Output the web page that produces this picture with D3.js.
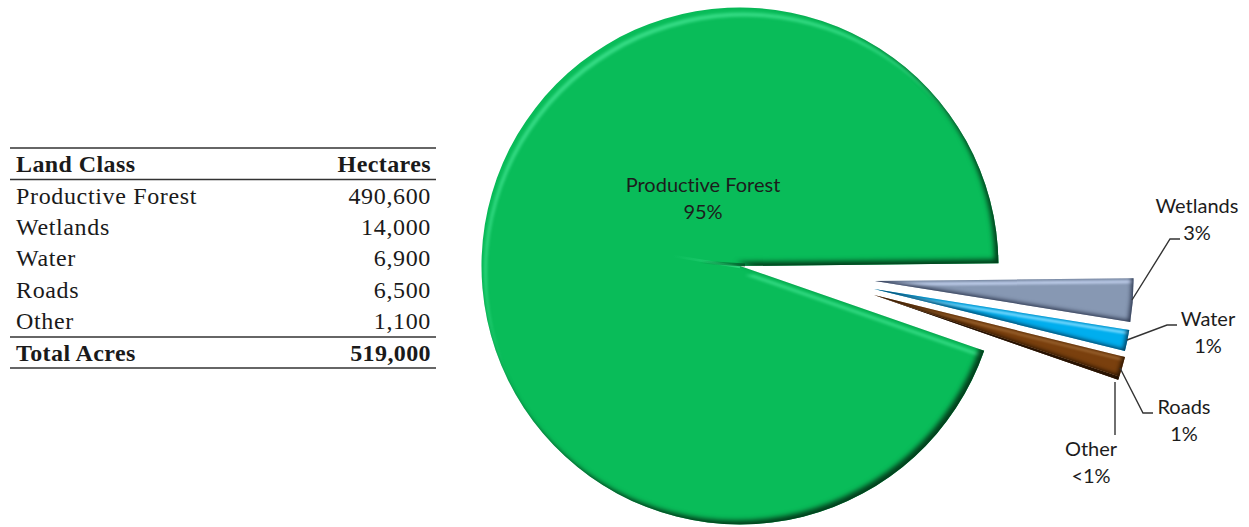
<!DOCTYPE html>
<html><head><meta charset="utf-8">
<script src="https://cdn.jsdelivr.net/npm/d3@7"></script>
<style>html,body{margin:0;padding:0;background:#fff}svg{display:block}text{font-variant-ligatures:none}</style>
</head><body><svg id="c" width="1249" height="527"></svg>
<script>
const landClasses = ["Productive Forest","Wetlands","Water","Roads","Other"];
const hectares = [490600,14000,6900,6500,1100];
const tableHeader = ["Land Class","Hectares"];
const totalRow = ["Total Acres","519,000"];
const sliceLabels = ["95%","3%","1%","1%","<1%"];
const sliceColors = ["#09bc59","#8798b3","#00aeee","#7a400e","#3a1c04"];
const darkEdges = ["#023f1c","#2e3850","#043f60","#2a1300","#1e0d00"];
const lightEdges = ["#37dc86","#bccbe8","#7fdcff","#9a6430","#3a1c04"];

const svg=d3.select("#c");
const defs=svg.append("defs");
function bevel(id,c){
  const f=defs.append("filter").attr("id",id).attr("x","-5%").attr("y","-15%").attr("width","110%").attr("height","130%")
    .attr("color-interpolation-filters","sRGB");
  f.append("feGaussianBlur").attr("in","SourceAlpha").attr("stdDeviation",c.s).attr("result","b");
  f.append("feOffset").attr("in","b").attr("dx",-c.d).attr("dy",-c.d).attr("result","o1");
  f.append("feComposite").attr("in","SourceAlpha").attr("in2","o1").attr("operator","out").attr("result","m1");
  f.append("feFlood").attr("flood-color",c.dark).attr("result","fd");
  f.append("feComposite").attr("in","fd").attr("in2","m1").attr("operator","in").attr("result","dk");
  /* light band a few pixels inside the upper edge */
  f.append("feOffset").attr("in","SourceAlpha").attr("dx",c.l1*0.6).attr("dy",c.l1).attr("result","a1");
  f.append("feOffset").attr("in","SourceAlpha").attr("dx",c.l2*0.6).attr("dy",c.l2).attr("result","a2");
  f.append("feComposite").attr("in","a1").attr("in2","a2").attr("operator","out").attr("result","band");
  f.append("feGaussianBlur").attr("in","band").attr("stdDeviation",c.ls).attr("result","bandB");
  f.append("feComposite").attr("in","bandB").attr("in2","SourceAlpha").attr("operator","in").attr("result","m2");
  f.append("feFlood").attr("flood-color",c.light).attr("result","fl");
  f.append("feComposite").attr("in","fl").attr("in2","m2").attr("operator","in").attr("result","lt");
  const m=f.append("feMerge");
  m.append("feMergeNode").attr("in","SourceGraphic");
  m.append("feMergeNode").attr("in","lt");
  m.append("feMergeNode").attr("in","dk");
}
landClasses.forEach((n,i)=>bevel("bev"+i,i===0
  ?{s:2.6,d:3.6,l1:5,l2:9,ls:1.4,dark:darkEdges[i],light:lightEdges[i]}
  :{s:1.9,d:2.2,l1:1.5,l2:5,ls:1.1,dark:darkEdges[i],light:lightEdges[i]}));

/* pie */
const deg=Math.PI/180, cx=740, cy=266, R=258.5;
const order=[4,1,2,3,0];
const pieOrder=[1,2,3,4,0];
const pie=d3.pie().sort(null).value(i=>hectares[i]).startAngle(89.4*deg).endAngle(449.4*deg);
const arcs=pie(pieOrder).sort((a,b)=>order.indexOf(a.data)-order.indexOf(b.data));
const arc=d3.arc().innerRadius(0).outerRadius(R);
const explodeOffsets={1:[135,15],2:[134,23],3:[134,29],4:[134,29],0:[0,0]};
svg.append("g").selectAll("path").data(arcs).join("path")
  .attr("transform",d=>{const o=explodeOffsets[d.data];return `translate(${cx+o[0]},${cy+o[1]})`;})
  .attr("d",arc).attr("fill",d=>sliceColors[d.data]).attr("filter",d=>`url(#bev${d.data})`);

/* bevel creases running past the notch */
const creases=[{id:"cl",from:[740,267],to:[673,256],color:"#37dc86",w:2.4},{id:"cd",from:[745,265],to:[700,262],color:"#034a22",w:3}];
creases.forEach(c=>{
  const g=defs.append("linearGradient").attr("id",c.id).attr("gradientUnits","userSpaceOnUse")
    .attr("x1",c.from[0]).attr("y1",c.from[1]).attr("x2",c.to[0]).attr("y2",c.to[1]);
  g.append("stop").attr("offset",0).attr("stop-color",c.color).attr("stop-opacity",0.75);
  g.append("stop").attr("offset",1).attr("stop-color",c.color).attr("stop-opacity",0);
  svg.append("line").attr("x1",c.from[0]).attr("y1",c.from[1]).attr("x2",c.to[0]).attr("y2",c.to[1])
    .attr("stroke",`url(#${c.id})`).attr("stroke-width",c.w);
});

/* leader lines */
const leaders={1:[[1132,300],[1170,239],[1180,239]],2:[[1127,340],[1167,325],[1177,325]],3:[[1120,368],[1143,413],[1153,413]],4:[[1115,382],[1115,435]]};
const line=d3.line();
svg.append("g").selectAll("path").data(Object.values(leaders)).join("path")
  .attr("d",line).attr("fill","none").attr("stroke","#333").attr("stroke-width",1.4);

/* slice labels */
const labelPos={0:[703,192],1:[1197,213],2:[1208,326],3:[1184,414],4:[1091,456]};
const lab=svg.append("g").attr("font-family","Lato, 'Open Sans', sans-serif").attr("font-size",20).attr("fill","#1c1c1c").attr("text-anchor","middle");
landClasses.forEach((n,i)=>{
  const t=lab.append("text").attr("x",labelPos[i][0]).attr("y",labelPos[i][1]);
  t.append("tspan").attr("x",labelPos[i][0]).text(n);
  t.append("tspan").attr("x",labelPos[i][0]).attr("dy",26.5).text(sliceLabels[i]);
});

/* table */
const fmt=d3.format(",");
const rowY=d3.scalePoint().domain(landClasses).range([203.5,329]);
const tb=svg.append("g").attr("font-family","'Liberation Serif', serif").attr("font-size",24).attr("fill","#1a1a1a").attr("letter-spacing",0.65);
const L=16,Rt=431;
[148,179.5,337,368].forEach(y=>tb.append("line").attr("x1",10).attr("x2",436).attr("y1",y).attr("y2",y).attr("stroke","#333").attr("stroke-width",1.6));
const bold=(x,y,s,anchor)=>tb.append("text").attr("x",x).attr("y",y).attr("font-weight",700).attr("letter-spacing",0.4).attr("text-anchor",anchor).text(s);
bold(L,172,tableHeader[0],"start");
bold(Rt,172,tableHeader[1],"end");
landClasses.forEach((n,i)=>{
  tb.append("text").attr("x",L).attr("y",rowY(n)).text(n);
  tb.append("text").attr("x",Rt).attr("y",rowY(n)).attr("text-anchor","end").text(fmt(hectares[i]));
});
bold(L,361,totalRow[0],"start");
bold(Rt,361,totalRow[1],"end");
</script></body></html>
